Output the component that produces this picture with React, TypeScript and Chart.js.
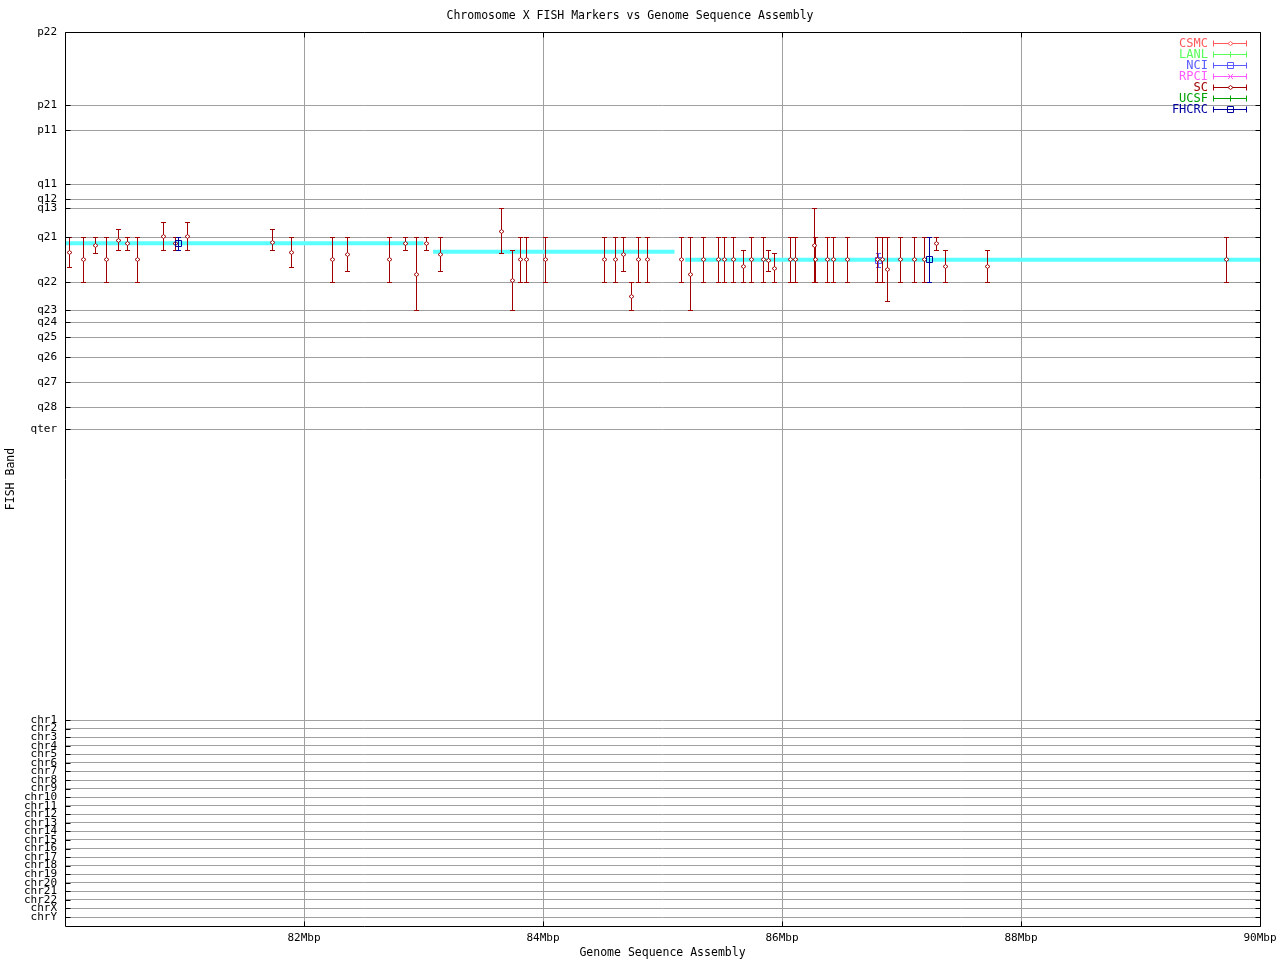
import React, { useEffect, useRef } from 'react';
import { Chart, registerables } from 'chart.js';

Chart.register(...registerables);

const TITLE = 'Chromosome X FISH Markers vs Genome Sequence Assembly';
const X_TITLE = 'Genome Sequence Assembly';
const Y_TITLE = 'FISH Band';

const X_MIN = 80;
const X_MAX = 90;
const X_TICKS = [82, 84, 86, 88, 90];

// band coordinate (0 = p22 at top, growing downward)
const Y_MIN = 0;
const Y_MAX = 894;
const BAND_LABELS = [
  'p22', 'p21', 'p11', 'q11', 'q12', 'q13', 'q21', 'q22', 'q23', 'q24', 'q25', 'q26', 'q27', 'q28', 'qter',
  'chr1', 'chr2', 'chr3', 'chr4', 'chr5', 'chr6', 'chr7', 'chr8', 'chr9', 'chr10', 'chr11', 'chr12',
  'chr13', 'chr14', 'chr15', 'chr16', 'chr17', 'chr18', 'chr19', 'chr20', 'chr21', 'chr22', 'chrX', 'chrY',
];
const BAND_POS = [
  0, 73.3, 98, 152.3, 167.3, 176.3, 205.3, 250.3, 278, 290, 305, 325, 350, 375, 397,
  688, 696.6, 705.1, 713.7, 722.3, 730.8, 739.4, 748, 756.5, 765.1, 773.7, 782.2,
  790.8, 799.3, 807.9, 816.5, 825, 833.6, 842.2, 850.7, 859.3, 867.9, 876.4, 885,
];

// assembly band track (cyan): x in Mbp, y in band coordinate (null = gap)
const ASSEMBLY_X = [80, 83.0, 83.04, 83.08, 85.1, 85.15, 85.19, 90];
const ASSEMBLY_Y = [211.3, 211.3, null, 219.7, 219.7, null, 227.7, 227.7];

// markers: [position Mbp, band, band low, band high]
const SC_MARKERS = [
  [80.036, 220.3, 205.3, 235.3],
  [80.153, 227.3, 205.3, 250.3],
  [80.254, 213, 205.3, 221.3],
  [80.346, 227.3, 205.3, 250.3],
  [80.446, 208, 197.3, 218.3],
  [80.521, 211.3, 205.3, 218.3],
  [80.605, 227.3, 205.3, 250.3],
  [80.823, 204, 190.3, 218.3],
  [80.921, 211.3, 205.3, 218.3],
  [81.023, 204, 190.3, 218.3],
  [81.735, 209.7, 197.3, 218.3],
  [81.894, 220.3, 205.3, 235.3],
  [82.237, 227.3, 205.3, 250.3],
  [82.362, 222.3, 205.3, 239],
  [82.714, 227.3, 205.3, 250.3],
  [82.843, 211.3, 205.3, 218.3],
  [82.935, 242.3, 205.3, 278],
  [83.023, 211.3, 205.3, 218.3],
  [83.141, 222.3, 205.3, 239],
  [83.651, 199.3, 176.3, 221],
  [83.743, 248.3, 218.3, 278],
  [83.81, 227.3, 205.3, 250.3],
  [83.86, 227.3, 205.3, 250.3],
  [84.019, 227.3, 205.3, 250.3],
  [84.513, 227.3, 205.3, 250.3],
  [84.605, 227.3, 205.3, 250.3],
  [84.672, 222, 205.3, 239],
  [84.739, 264.3, 250.3, 278],
  [84.797, 227.3, 205.3, 250.3],
  [84.873, 227.3, 205.3, 250.3],
  [85.152, 227.3, 205.3, 250.3],
  [85.233, 242.3, 205.3, 278],
  [85.341, 227.3, 205.3, 250.3],
  [85.467, 227.3, 205.3, 250.3],
  [85.517, 227.3, 205.3, 250.3],
  [85.592, 227.3, 205.3, 250.3],
  [85.676, 234.3, 218.3, 250.3],
  [85.743, 227.3, 205.3, 250.3],
  [85.845, 227.3, 205.3, 250.3],
  [85.887, 228.3, 218.3, 239],
  [85.937, 236.3, 221.3, 250.3],
  [86.067, 227.3, 205.3, 250.3],
  [86.105, 227.3, 205.3, 250.3],
  [86.264, 213.3, 176.3, 250.3],
  [86.272, 227.3, 205.3, 250.3],
  [86.378, 227.3, 205.3, 250.3],
  [86.423, 227.3, 205.3, 250.3],
  [86.546, 227.3, 205.3, 250.3],
  [86.792, 227.3, 205.3, 250.3],
  [86.839, 227.3, 205.3, 250.3],
  [86.876, 237.3, 205.3, 269.3],
  [86.99, 227.3, 205.3, 250.3],
  [87.107, 227.3, 205.3, 250.3],
  [87.191, 227.3, 205.3, 250.3],
  [87.285, 211.3, 205.3, 218.3],
  [87.368, 234.3, 218.3, 250.3],
  [87.718, 234.3, 218.3, 250.3],
  [89.718, 227.3, 205.3, 250.3],
];
const FHCRC_MARKERS = [
  [80.946, 211.3, 205.3, 218.3],
  [87.228, 227.3, 205.3, 250.3],
];
const NCI_MARKERS = [
  [86.801, 228, 221.3, 235.3],
];
const CSMC_MARKERS: number[][] = [];
const LANL_MARKERS: number[][] = [];
const RPCI_MARKERS: number[][] = [];
const UCSF_MARKERS: number[][] = [];

const SOURCES = ['CSMC', 'LANL', 'NCI', 'RPCI', 'SC', 'UCSF', 'FHCRC'];
const SOURCE_COLORS = ['#ff5a5a', '#5aff5a', '#5a5aff', '#ff5aff', '#a00000', '#00a000', '#0000a0'];
const SOURCE_MARKS = ['diamond', 'plus', 'box', 'cross', 'diamond', 'plus', 'box'];
const SOURCE_DATA = [CSMC_MARKERS, LANL_MARKERS, NCI_MARKERS, RPCI_MARKERS, SC_MARKERS, UCSF_MARKERS, FHCRC_MARKERS];

const MONO = "'DejaVu Sans Mono', 'Liberation Mono', monospace";
const GRID = '#a0a0a0';
const CYAN = '#5affff';

function drawMark(ctx: CanvasRenderingContext2D, kind: string, x: number, y: number, color: string) {
  ctx.save();
  ctx.strokeStyle = color;
  ctx.lineWidth = 1;
  ctx.beginPath();
  if (kind === 'diamond') {
    ctx.fillStyle = '#ffffff';
    ctx.moveTo(x - 2.5, y);
    ctx.lineTo(x, y - 2);
    ctx.lineTo(x + 2.5, y);
    ctx.lineTo(x, y + 2);
    ctx.closePath();
    ctx.fill();
    ctx.stroke();
  } else if (kind === 'box') {
    ctx.rect(x - 3, y - 3, 6, 6);
    ctx.stroke();
  } else if (kind === 'plus') {
    ctx.moveTo(x - 3, y);
    ctx.lineTo(x + 3, y);
    ctx.moveTo(x, y - 3);
    ctx.lineTo(x, y + 3);
    ctx.stroke();
  } else if (kind === 'cross') {
    ctx.moveTo(x - 2.5, y - 2.5);
    ctx.lineTo(x + 2.5, y + 2.5);
    ctx.moveTo(x + 2.5, y - 2.5);
    ctx.lineTo(x - 2.5, y + 2.5);
    ctx.stroke();
  }
  ctx.restore();
}

const errorBarPlugin = {
  id: 'fishErrorBars',
  afterDatasetsDraw(chart: any) {
    const ctx = chart.ctx;
    const xs = chart.scales.x;
    const ys = chart.scales.y;
    const area = chart.chartArea;
    ctx.save();
    ctx.beginPath();
    ctx.rect(area.left, area.top, area.right - area.left, area.bottom - area.top);
    ctx.clip();
    chart.data.datasets.forEach((ds: any) => {
      if (!ds.fishSource) return;
      const color = ds.fishColor;
      ds.fishRows.forEach((r: number[]) => {
        const px = Math.round(xs.getPixelForValue(r[0])) + 0.5;
        const lo = Math.round(ys.getPixelForValue(r[2])) + 0.5;
        const hi = Math.round(ys.getPixelForValue(r[3])) + 0.5;
        ctx.strokeStyle = color;
        ctx.lineWidth = 1;
        ctx.beginPath();
        ctx.moveTo(px, lo);
        ctx.lineTo(px, hi);
        ctx.moveTo(px - 2.5, lo);
        ctx.lineTo(px + 2.5, lo);
        ctx.moveTo(px - 2.5, hi);
        ctx.lineTo(px + 2.5, hi);
        ctx.stroke();
      });
      ds.fishRows.forEach((r: number[]) => {
        const px = Math.round(xs.getPixelForValue(r[0])) + 0.5;
        const py = Math.round(ys.getPixelForValue(r[1])) + 0.5;
        drawMark(ctx, ds.fishMark, px, py, color);
      });
    });
    ctx.restore();
  },
  afterDraw(chart: any) {
    const ctx = chart.ctx;
    const a = chart.chartArea;
    const xs = chart.scales.x;
    const ys = chart.scales.y;
    ctx.save();
    ctx.strokeStyle = '#000000';
    ctx.lineWidth = 1;
    const L = Math.round(a.left) + 0.5;
    const R = Math.round(a.right) + 0.5;
    const T = Math.round(a.top) + 0.5;
    const B = Math.round(a.bottom) + 0.5;
    ctx.beginPath();
    ctx.rect(L, T, R - L, B - T);
    BAND_POS.forEach((v) => {
      const py = Math.round(ys.getPixelForValue(v)) + 0.5;
      ctx.moveTo(L, py);
      ctx.lineTo(L + 5, py);
      ctx.moveTo(R - 5, py);
      ctx.lineTo(R, py);
    });
    X_TICKS.forEach((v) => {
      const px = Math.round(xs.getPixelForValue(v)) + 0.5;
      ctx.moveTo(px, T);
      ctx.lineTo(px, T + 5);
      ctx.moveTo(px, B - 5);
      ctx.lineTo(px, B);
    });
    ctx.stroke();

    // key
    ctx.font = `12px ${MONO}`;
    ctx.textAlign = 'right';
    ctx.textBaseline = 'middle';
    SOURCES.forEach((name, i) => {
      const y = 43.5 + i * 11;
      const color = SOURCE_COLORS[i];
      ctx.fillStyle = color;
      ctx.fillText(name, 1208, y);
      ctx.strokeStyle = color;
      ctx.beginPath();
      ctx.moveTo(1213, y);
      ctx.lineTo(1247, y);
      ctx.moveTo(1213.5, y - 3);
      ctx.lineTo(1213.5, y + 3);
      ctx.moveTo(1246.5, y - 3);
      ctx.lineTo(1246.5, y + 3);
      ctx.stroke();
      drawMark(ctx, SOURCE_MARKS[i], 1230.5, y, color);
    });
    ctx.restore();
  },
};

export default function App() {
  const ref = useRef<HTMLCanvasElement | null>(null);

  useEffect(() => {
    document.body.style.margin = '0';
    const canvas = ref.current;
    if (!canvas) return;

    const assembly = ASSEMBLY_X.map((x, i) => ({ x, y: ASSEMBLY_Y[i] }));
    const sourceSets = SOURCES.map((name, i) => ({
      label: name,
      type: 'scatter' as const,
      data: SOURCE_DATA[i].map((r) => ({ x: r[0], y: r[1] })),
      pointRadius: 0,
      showLine: false,
      fishSource: true,
      fishColor: SOURCE_COLORS[i],
      fishMark: SOURCE_MARKS[i],
      fishRows: SOURCE_DATA[i],
      order: 1,
    }));

    const font = { family: MONO, size: 11, weight: 'normal' as const };
    const titleFont = { family: MONO, size: 11.5, weight: 'normal' as const };

    const chart = new Chart(canvas, {
      type: 'line',
      data: {
        datasets: [
          ...sourceSets,
          {
            label: 'assembly',
            data: assembly as any,
            borderColor: CYAN,
            backgroundColor: CYAN,
            borderWidth: 4,
            pointRadius: 0,
            spanGaps: false,
            tension: 0,
            borderCapStyle: 'butt',
            order: 5,
          },
        ] as any,
      },
      options: {
        responsive: false,
        animation: false,
        devicePixelRatio: 1,
        parsing: false as any,
        normalized: true,
        events: [],
        layout: { padding: { left: 0, right: 20, top: 0, bottom: 0 } },
        plugins: {
          legend: { display: false },
          tooltip: { enabled: false },
          title: {
            display: true,
            text: TITLE,
            color: '#000000',
            font: titleFont,
            padding: { top: 9, bottom: 9.2 },
          },
        },
        scales: {
          x: {
            type: 'linear',
            min: X_MIN,
            max: X_MAX,
            afterBuildTicks: (s: any) => {
              s.ticks = X_TICKS.map((v) => ({ value: v }));
            },
            afterFit: (s: any) => {
              s.height = 34;
              s.paddingLeft = 0;
              s.paddingRight = 0;
            },
            grid: { color: GRID, lineWidth: 1, drawTicks: false },
            border: { display: false },
            ticks: {
              color: '#000000',
              font,
              padding: 6,
              autoSkip: false,
              maxRotation: 0,
              callback: (v: any) => `${v}Mbp`,
            },
            title: {
              display: true,
              text: X_TITLE,
              color: '#000000',
              font: titleFont,
              padding: { top: 0, bottom: 0 },
            },
          },
          y: {
            type: 'linear',
            reverse: true,
            min: Y_MIN,
            max: Y_MAX,
            afterBuildTicks: (s: any) => {
              s.ticks = BAND_POS.map((v) => ({ value: v }));
            },
            afterFit: (s: any) => {
              s.width = 65;
            },
            grid: { color: GRID, lineWidth: 1, drawTicks: false },
            border: { display: false },
            ticks: {
              color: '#000000',
              font,
              padding: 8,
              autoSkip: false,
              callback: (_v: any, i: number) => BAND_LABELS[i],
            },
            title: {
              display: true,
              text: Y_TITLE,
              color: '#000000',
              font: titleFont,
              padding: { top: 4, bottom: 0 },
            },
          },
        },
      } as any,
      plugins: [errorBarPlugin],
    });

    return () => chart.destroy();
  }, []);

  return (
    <div style={{ width: 1280, height: 960, background: '#ffffff' }}>
      <canvas ref={ref} width={1280} height={960} style={{ width: 1280, height: 960, display: 'block' }} />
    </div>
  );
}
